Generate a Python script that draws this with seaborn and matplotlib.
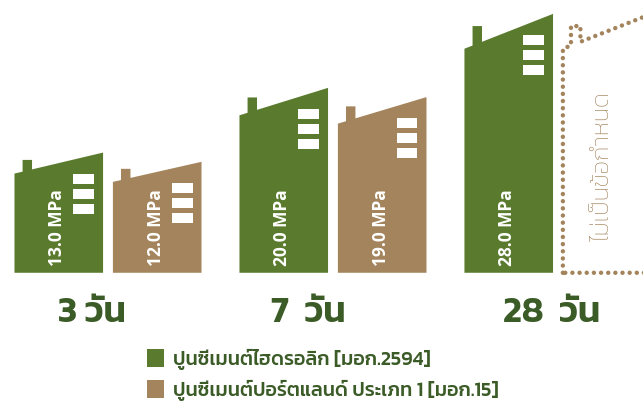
import numpy as np
import pandas as pd
import matplotlib
matplotlib.use("Agg")
import matplotlib.pyplot as plt
from matplotlib.patches import Polygon, Rectangle
import seaborn as sns

# data
days = ["3 วัน", "7 วัน", "28 วัน"]
hydraulic = [13.0, 20.0, 28.0]
portland = [12.0, 19.0, np.nan]
series = ["ปูนซีเมนต์ไฮดรอลิก [มอก.2594]", "ปูนซีเมนต์ปอร์ตแลนด์ ประเภท 1 [มอก.15]"]
not_spec = "ไม่เป็นข้อกำหนด"

green = "#5A7B2E"
brown = "#A3845C"
dark_green = "#3B5B27"
thai = ["Kanit", "DejaVu Sans"]

df = pd.DataFrame({
    "day": days * 2,
    "mpa": hydraulic + portland,
    "type": [series[0]] * 3 + [series[1]] * 3,
})

fig = plt.figure(figsize=(6.43, 4.05), dpi=100)
ax = fig.add_axes([0, 0, 1, 1])
sns.barplot(data=df, x="day", y="mpa", hue="type", order=days, hue_order=series,
            palette=[green, brown], saturation=1, width=0.875, gap=0.1, ax=ax)


def building(x0, w, v, color, dotted=False):
    # turn a plain bar into a little house: sloped roof, chimney, windows
    drop = 0.1 * v + 0.97
    left_top = v - drop
    roof = lambda x: left_top + drop * (x - x0) / w
    cx0, cx1 = x0 + 0.036, x0 + 0.078
    chim = left_top + 0.65 * drop
    pts = [(x0, 0), (x0, left_top), (cx0, roof(cx0)), (cx0, chim), (cx1, chim),
           (cx1, roof(cx1)), (x0 + w, v), (x0 + w, 0)]
    if dotted:
        ax.add_patch(Polygon(pts, closed=True, fill=False, edgecolor=color, lw=3.2,
                             linestyle=(0, (0.01, 1.6)), capstyle="round",
                             joinstyle="round", zorder=2))
        return
    ax.add_patch(Polygon(pts, closed=True, facecolor=color, edgecolor="none", zorder=2))
    for k in range(3):
        ax.add_patch(Rectangle((x0 + w - 0.133, v - 2.3 - k * 1.62 - 1.05), 0.093, 1.05,
                               facecolor="white", edgecolor="none", zorder=3))
    ax.text(x0 + w / 2 - 0.006, 0.75, f"{v:.1f} MPa", rotation=90, ha="center",
            va="bottom", color="white", fontsize=12.5, fontweight="bold",
            family="Open Sans", zorder=4)


bars = [list(c.patches) for c in ax.containers]
for cont, color in zip(bars, [green, brown]):
    for p in cont:
        x0, w, v = p.get_x(), p.get_width(), p.get_height()
        p.remove()
        if np.isfinite(v):
            building(x0, w, v, color)

# 28-day portland has no requirement: dotted outline in its slot
dx = bars[1][0].get_x() - bars[0][0].get_x()
g28 = bars[0][2]
x_ns = g28.get_x() + dx
building(x_ns, g28.get_width(), hydraulic[-1], brown, dotted=True)
ax.text(x_ns + g28.get_width() / 2 - 0.02, 3.4, not_spec, rotation=90, ha="center",
        va="bottom", color=brown, fontsize=17.5, fontweight="light", family=thai)

# day labels under each group
shift = [-0.07, -0.11, -0.027]
for i, d in enumerate(days):
    ax.text(i + shift[i], -4.45, d.replace(" ", "  ") if i else d, ha="center",
            va="center", color=dark_green, fontsize=26, fontweight="semibold",
            family=thai)

sns.move_legend(ax, "upper left", bbox_to_anchor=(0.217, 0.158), title=None,
                frameon=False, handlelength=0.85, handleheight=1.0,
                handletextpad=0.45, labelspacing=0.5, borderaxespad=0,
                labelcolor=dark_green,
                prop={"family": thai, "size": 14.2, "weight": "medium"})

ax.set_xlim(-0.48, 2.378)
ax.set_ylim(-14.3, 29.5)
ax.set_axis_off()
fig.savefig("out.png", dpi=100)
